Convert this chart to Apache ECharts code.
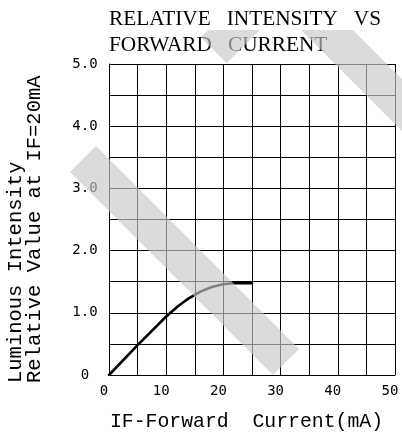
<!DOCTYPE html>
<html><head><meta charset="utf-8">
<script src="https://cdn.jsdelivr.net/npm/echarts@6/dist/echarts.min.js"></script>
<style>html,body{margin:0;padding:0;background:#fff}#c{width:402px;height:440px}</style>
</head><body><div id="c"></div>
<script>
// ---- data ----
const currentMA    = [0, 5, 10, 11, 12, 13, 14, 15, 16, 17, 18, 19, 20, 21, 22, 25];
const relIntensity = [0, 0.48, 0.94, 1.02, 1.10, 1.17, 1.235, 1.29, 1.34, 1.38, 1.415, 1.44, 1.46, 1.47, 1.475, 1.475];
const xTickLabels  = ['0', '10', '20', '30', '40', '50'];
const yTickLabels  = ['0', '1.0', '2.0', '3.0', '4.0', '5.0'];
const titleText    = 'RELATIVE   INTENSITY   VS\nFORWARD   CURRENT';
const xNameText    = 'IF-Forward  Current(mA)';
const yNameLines   = ['Luminous Intensity', 'Relative Value at IF=20mA'];

// ---- chart ----
const chart = echarts.init(document.getElementById('c'), null, {renderer: 'canvas'});
const seriesData = currentMA.map((x, i) => [x, relIntensity[i]]);
const stripeFill = 'rgba(200,200,200,0.65)';

chart.setOption({
  animation: false,
  backgroundColor: '#fff',
  title: {
    text: titleText,
    left: 109, top: 6, padding: 0,
    textStyle: {fontFamily: 'Liberation Serif', fontSize: 21.3, fontWeight: 'normal', color: '#000', lineHeight: 26.5}
  },
  grid: {left: 109, top: 64, width: 286, height: 311, containLabel: false},
  xAxis: {
    type: 'value', min: 0, max: 50, interval: 5,
    axisLine: {show: true, lineStyle: {color: '#000', width: 1}},
    axisTick: {show: false},
    splitLine: {show: true, lineStyle: {color: '#000', width: 1}},
    axisLabel: {
      margin: 9, padding: [0, 10, 0, 0],
      fontFamily: 'DejaVu Sans Mono', fontSize: 14, color: '#000',
      formatter: v => (v % 10 === 0 ? xTickLabels[v / 10] : '')
    }
  },
  yAxis: {
    type: 'value', min: 0, max: 5, interval: 0.5,
    axisLine: {show: true, lineStyle: {color: '#000', width: 1}},
    axisTick: {show: false},
    splitLine: {show: true, lineStyle: {color: '#000', width: 1}},
    axisLabel: {
      margin: 24, align: 'center',
      fontFamily: 'DejaVu Sans Mono', fontSize: 14, color: '#000',
      formatter: v => (Number.isInteger(v) ? yTickLabels[v] : '')
    }
  },
  series: [{
    type: 'line', data: seriesData, smooth: false,
    showSymbol: false, symbol: 'none',
    lineStyle: {color: '#000', width: 2.6, join: 'round', cap: 'round'}, z: 3
  }],
  graphic: [
    {type: 'text', x: 246.5, y: 422, z: 50,
     style: {text: xNameText, font: '19.8px "Liberation Mono"', fill: '#000',
             align: 'center', verticalAlign: 'middle', textAlign: 'center', textVerticalAlign: 'middle'}},
    {type: 'text', x: 15.5, y: 383, rotation: Math.PI / 2, z: 50,
     style: {text: yNameLines[0], font: '20.5px "Liberation Mono"', fill: '#000',
             align: 'left', verticalAlign: 'middle', textAlign: 'left', textVerticalAlign: 'middle'}},
    {type: 'text', x: 34.3, y: 383, rotation: Math.PI / 2, z: 50,
     style: {text: yNameLines[1], font: '20.5px "Liberation Mono"', fill: '#000',
             align: 'left', verticalAlign: 'middle', textAlign: 'left', textVerticalAlign: 'middle'}},
    // decorative watermark stripes
    {type: 'polygon', z: 100, silent: true,
     shape: {points: [[70, 172], [96, 146], [299, 349], [273, 375]]}, style: {fill: stripeFill}},
    {type: 'polygon', z: 100, silent: true,
     shape: {points: [[200.7, 37.3], [208, 30], [260, 30], [226.7, 63.3]]}, style: {fill: stripeFill}},
    {type: 'polygon', z: 100, silent: true,
     shape: {points: [[301, 30], [353, 30], [440, 117], [440, 169]]}, style: {fill: stripeFill}}
  ]
});
</script>
</body></html>
